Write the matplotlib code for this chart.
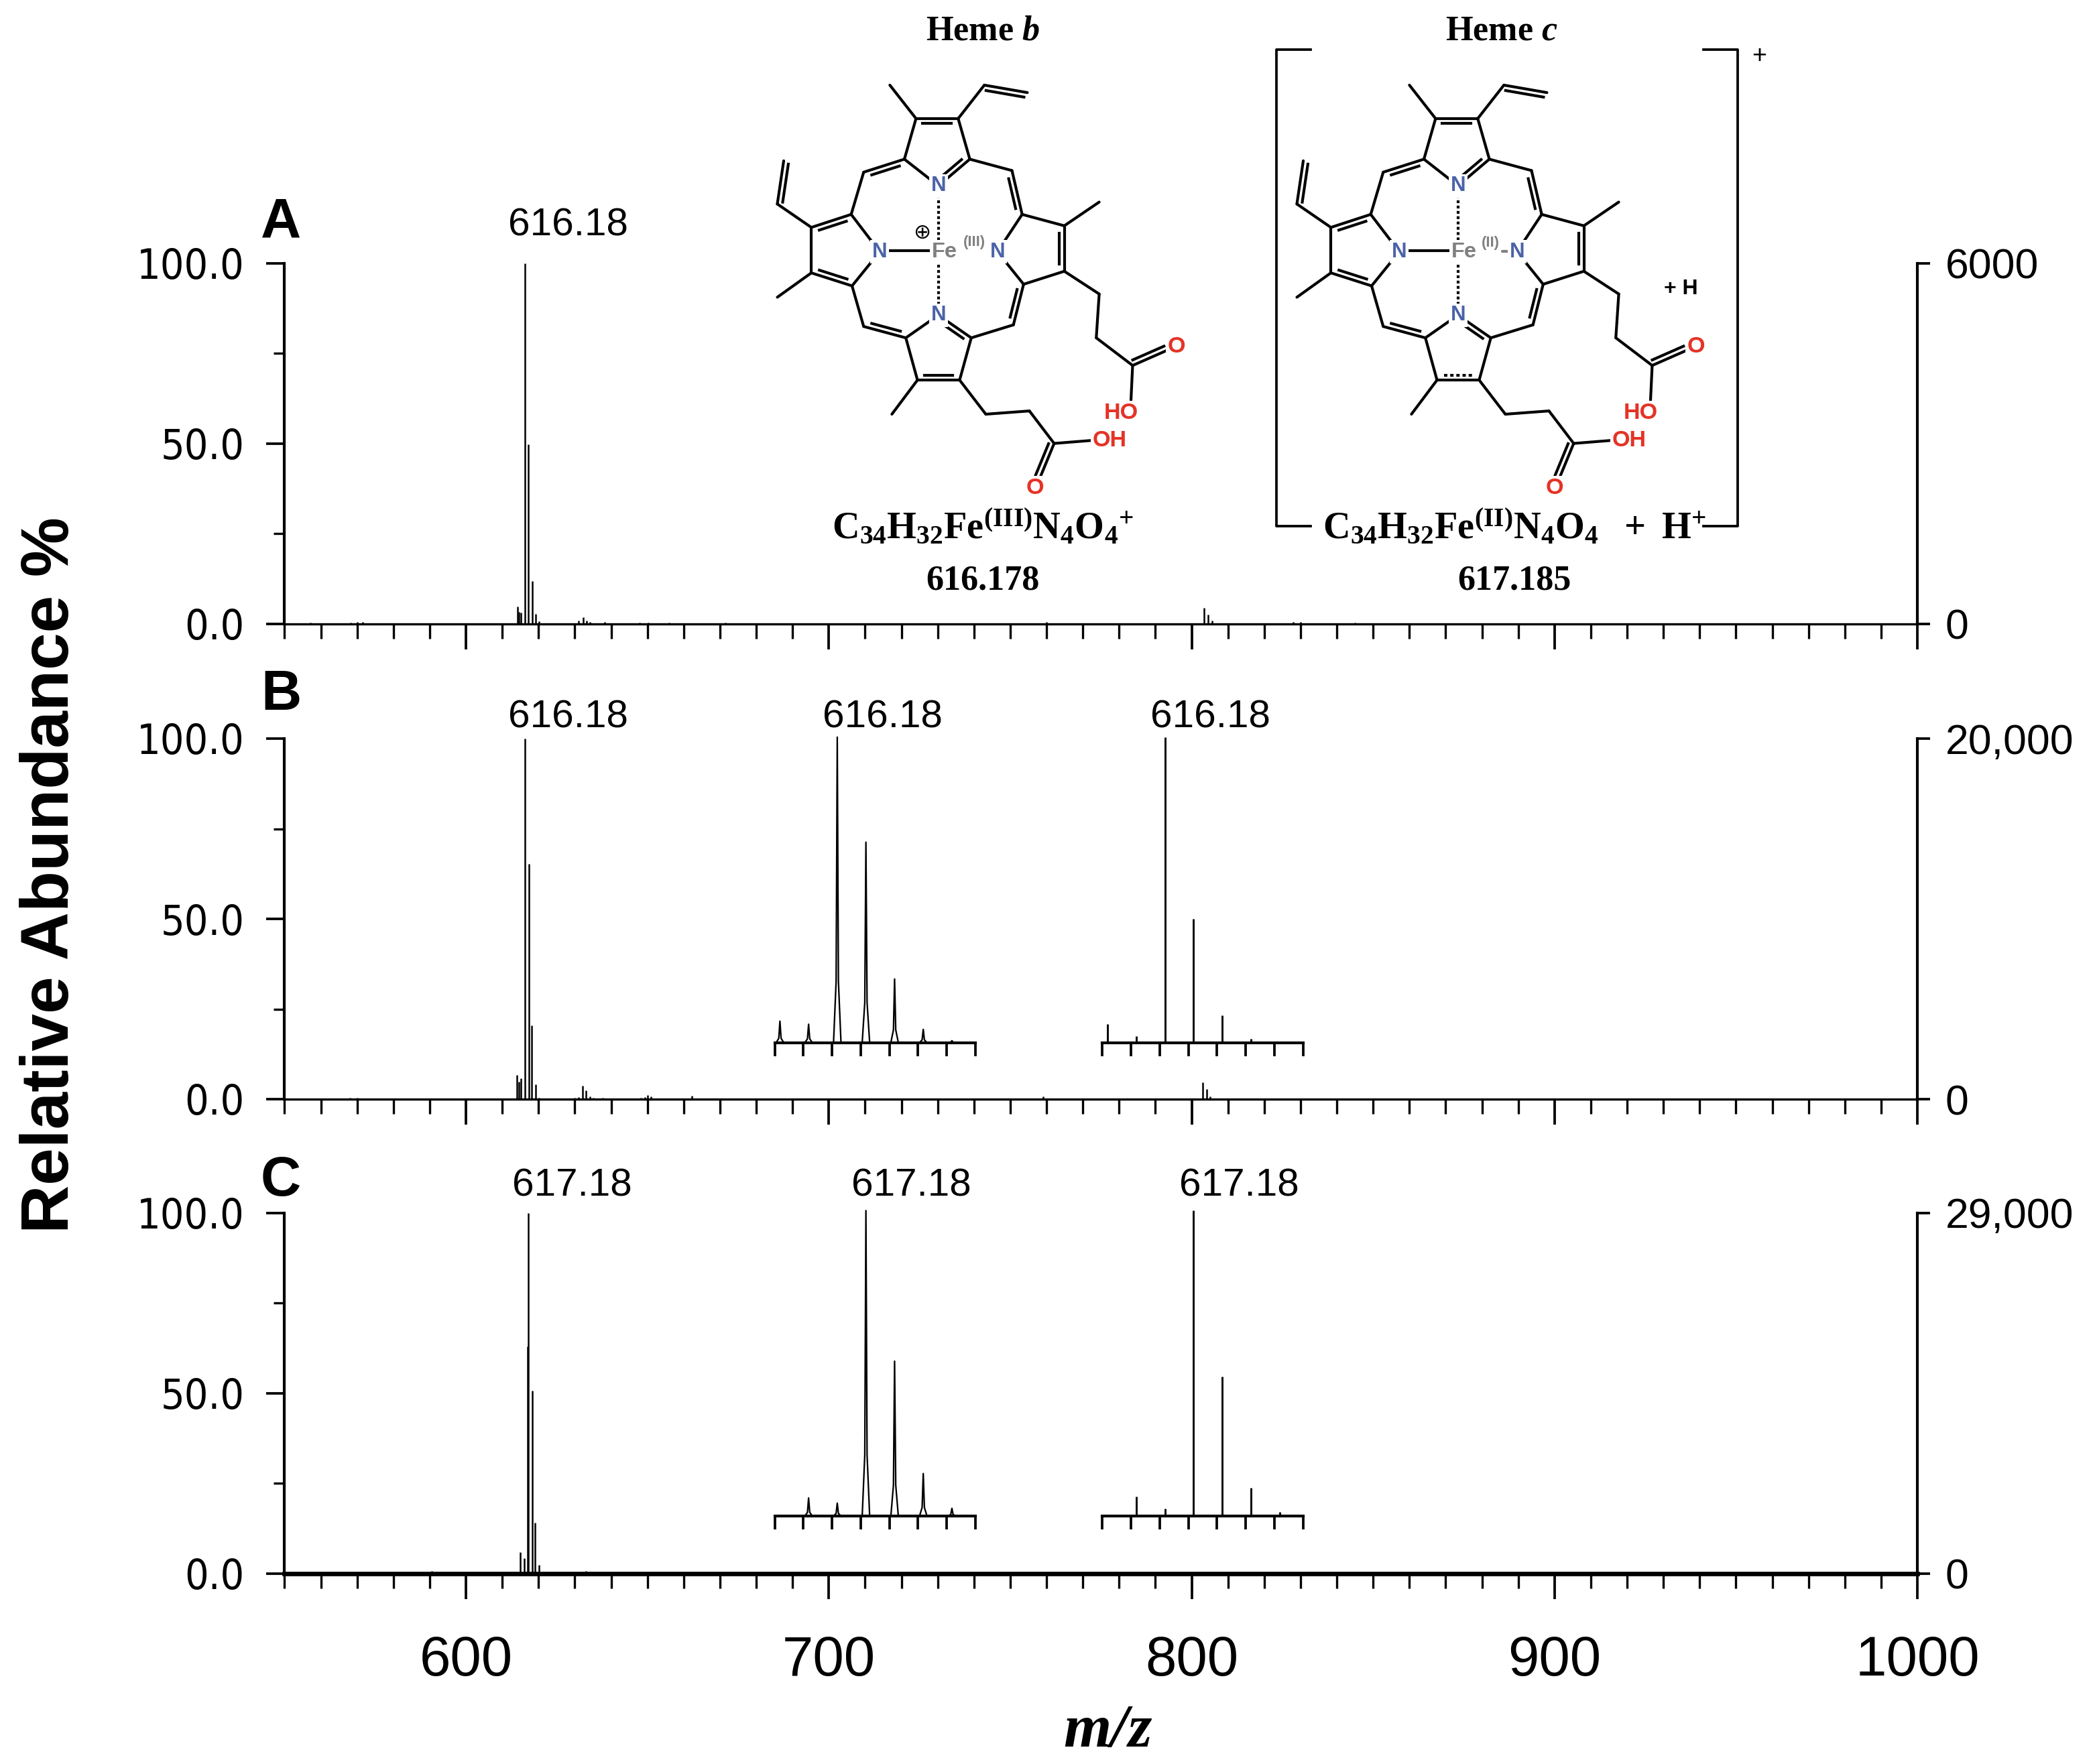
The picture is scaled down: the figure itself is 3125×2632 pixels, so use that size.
import math
import matplotlib
matplotlib.use("Agg")
import matplotlib.pyplot as plt
from matplotlib import font_manager

# ---------------------------------------------------------------------------
# spectra: m/z and relative abundance (%)
mz_a = [557.2, 568.2, 570.0, 571.5, 614.18, 614.6, 615.18, 616.18, 617.18, 618.18,
        619.18, 620.18, 631.1, 632.3, 633.2, 634.2, 638.3, 647.9, 650.2, 655.9,
        671.4, 760.0, 803.4, 804.6, 805.6, 828.0, 830.0, 845.0]
ab_a = [0.3, 0.3, 0.5, 0.4, 4.8, 3.2, 3.0, 100.0, 49.7, 11.8,
        2.8, 0.7, 0.9, 1.7, 0.9, 0.4, 0.4, 0.3, 0.3, 0.3,
        0.3, 0.4, 4.4, 2.5, 0.8, 0.4, 0.5, 0.3]

mz_b = [568.0, 570.0, 614.1, 614.6, 615.2, 616.18, 617.3, 618.1, 619.2, 620.2,
        630.0, 631.0, 632.2, 633.1, 634.1, 635.1, 637.6, 648.2, 649.3, 650.1,
        651.0, 662.2, 759.1, 803.1, 804.2, 805.1]
ab_b = [0.3, 0.3, 6.7, 4.8, 5.7, 100.0, 65.2, 20.5, 4.1, 0.3,
        0.3, 0.5, 3.8, 2.4, 0.8, 0.3, 0.4, 0.4, 0.6, 1.2,
        0.8, 0.9, 0.8, 4.6, 2.7, 0.8]

mz_c = [571.0, 590.6, 615.0, 616.1, 617.0, 617.18, 618.3, 619.1, 620.2, 633.1,
        634.4, 637.5, 649.3, 779.2]
ab_c = [0.3, 0.6, 5.8, 4.1, 62.9, 100.0, 50.7, 14.0, 2.4, 0.7,
        0.5, 0.3, 0.3, 0.4]

# isotope cluster insets (m/z 614-621)
ins_b1_mz = [614.18, 615.18, 616.18, 617.18, 618.18, 619.18, 620.18]
ins_b1_ab = [7.0, 6.0, 100.0, 65.6, 20.8, 4.3, 0.6]
ins_b2_mz = [614.18, 615.18, 616.18, 617.18, 618.18, 619.18]
ins_b2_ab = [6.1, 2.0, 100.0, 40.4, 9.0, 1.3]
ins_c1_mz = [615.18, 616.18, 617.18, 618.18, 619.18, 620.18]
ins_c1_ab = [5.9, 4.2, 100.0, 50.7, 13.9, 2.5]
ins_c2_mz = [615.18, 616.18, 617.18, 618.18, 619.18, 620.18]
ins_c2_ab = [6.4, 2.3, 100.0, 45.6, 9.3, 1.4]

panel_letters = ["A", "B", "C"]
base_peaks = [616.18, 616.18, 617.18]
peak_texts = ["616.18", "616.18", "617.18"]
right_max = ["6000", "20,000", "29,000"]
left_labels = ["0.0", "50.0", "100.0"]
x_labels = ["600", "700", "800", "900", "1000"]

# ---------------------------------------------------------------------------
W, H = 3125, 2632
DPI = 300

names = {f.name for f in font_manager.fontManager.ttflist}
narrow = "Liberation Sans Narrow" if "Liberation Sans Narrow" in names else "Liberation Sans"

plt.rcParams["font.family"] = ["Liberation Sans", "DejaVu Sans"]
plt.rcParams["mathtext.fontset"] = "custom"
plt.rcParams["mathtext.rm"] = "Liberation Serif:bold"
plt.rcParams["mathtext.it"] = "Liberation Serif:italic:bold"
plt.rcParams["mathtext.bf"] = "Liberation Serif:bold"

fig = plt.figure(figsize=(W / DPI, H / DPI), dpi=DPI)


def rect(top, bottom, left=424.5, right=2860):
    return [left / W, 1 - bottom / H, (right - left) / W, (bottom - top) / H]


panel_px = [(392.6, 930.6), (1102, 1640), (1809.5, 2347.5)]
spectra = [(mz_a, ab_a), (mz_b, ab_b), (mz_c, ab_c)]
label_y = [107.7, 103.0, 104.7]
letter_y = [107.0, 108.0, 104.8]

axes = []
for i, (top, bot) in enumerate(panel_px):
    ax = fig.add_axes(rect(top, bot))
    mz, ab = spectra[i]
    ax.vlines(mz, 0, ab, color="black", lw=0.6)
    ax.set_xlim(550, 1000)
    ax.set_ylim(0, 100)
    for s in ["top", "right"]:
        ax.spines[s].set_visible(False)
    ax.spines["left"].set_linewidth(1.0)
    ax.spines["bottom"].set_linewidth(1.6 if i == 2 else 0.8)
    ax.set_xticks(range(600, 1001, 100))
    ax.set_xticks(range(550, 1001, 10), minor=True)
    ax.tick_params(axis="x", which="major", direction="out", length=9, width=0.9)
    ax.tick_params(axis="x", which="minor", direction="out", length=5.3, width=0.8)
    if i == 2:
        ax.set_xticklabels(x_labels, fontfamily=narrow,
                           fontsize=21.5 if narrow != "Liberation Sans" else 20)
        ax.tick_params(axis="x", which="major", pad=13)
    else:
        ax.tick_params(axis="x", labelbottom=False)
    ax.set_yticks([0, 50, 100])
    ax.set_yticklabels(left_labels, fontfamily="DejaVu Sans", fontstretch="condensed",
                       fontsize=15)
    ax.set_yticks([25, 75], minor=True)
    ax.tick_params(axis="y", which="major", direction="out", length=6.4, width=0.9, pad=8)
    ax.tick_params(axis="y", which="minor", direction="out", length=3.8, width=0.8)

    ax2 = ax.twinx()
    ax2.set_ylim(0, 100)
    for s in ["top", "left", "bottom"]:
        ax2.spines[s].set_visible(False)
    ax2.spines["right"].set_linewidth(1.0)
    ax2.set_yticks([0, 100])
    ax2.set_yticklabels(["0", right_max[i]], fontsize=15)
    ax2.tick_params(axis="y", direction="out", length=4.5, width=0.9, pad=5.5)

    ax.text(base_peaks[i] + 12, label_y[i], peak_texts[i], ha="center", va="baseline",
            fontsize=14)
    ax.text(549, letter_y[i], panel_letters[i], ha="center", va="baseline",
            fontsize=20, fontweight="bold")
    axes.append(ax)


def inset(ax, x0, y0, mz, ab, profile, label, label_yv):
    w, h = 55.3, 84.7
    ins = ax.inset_axes([x0, y0, w, h], transform=ax.transData)
    ins.set_xlim(614, 621)
    ins.set_ylim(0, 100)
    ins.patch.set_visible(False)
    for s in ["top", "left", "right"]:
        ins.spines[s].set_visible(False)
    ins.spines["bottom"].set_linewidth(1.0)
    ins.set_xticks(range(614, 622))
    ins.set_yticks([])
    ins.tick_params(axis="x", direction="out", length=4.8, width=0.9, labelbottom=False)
    if profile:
        # open peak outline, like the profile trace of the reference
        for m, a in zip(mz, ab):
            ins.plot([m - 0.13, m - 0.04, m, m + 0.04, m + 0.13], [0, a * 0.2, a, a * 0.2, 0],
                     color="black", lw=0.55, clip_on=False)
    else:
        ins.vlines(mz, 0, ab, color="black", lw=0.7)
    top = mz[ab.index(max(ab))]
    px = x0 + (top - 614) / 7 * w
    ax.text(px + 12.5, label_yv, label, ha="center", va="baseline", fontsize=14)


inset(axes[1], 685.1, 15.7, ins_b1_mz, ins_b1_ab, True, "616.18", label_y[1])
inset(axes[1], 775.4, 15.7, ins_b2_mz, ins_b2_ab, False, "616.18", label_y[1])
inset(axes[2], 685.1, 15.9, ins_c1_mz, ins_c1_ab, True, "617.18", label_y[2])
inset(axes[2], 775.4, 15.9, ins_c2_mz, ins_c2_ab, False, "617.18", label_y[2])

fig.text(76 / W, 1 - 1306 / H, "Relative Abundance %", rotation=90, ha="center",
         va="center", fontsize=24, fontweight="bold")
fig.text(1652 / W, 1 - 2584 / H, "m/z", ha="center", va="center", fontsize=22,
         fontfamily="Liberation Serif", fontweight="bold", fontstyle="italic")

# ---------------------------------------------------------------------------
# heme structures, drawn in pixel space on a transparent overlay
ov = fig.add_axes([0, 0, 1, 1])
ov.set_xlim(0, W)
ov.set_ylim(H, 0)
ov.axis("off")

ATOMS = {
    "Nt": (622, 572), "tA1": (505, 490), "tA2": (730, 490), "tB1": (545, 365), "tB2": (690, 365),
    "tMe": (455, 262), "tV1": (780, 262), "tV2": (928, 285),
    "m1": (365, 530),
    "Nl": (420, 775), "lA1": (322, 660), "lA2": (325, 880), "lB1": (185, 700), "lB2": (185, 840),
    "lV1": (68, 628), "lV2": (90, 495), "lMe": (68, 915),
    "m2": (365, 1005),
    "Nb": (622, 970), "bA1": (510, 1040), "bA2": (735, 1040), "bB1": (550, 1170), "bB2": (695, 1170),
    "bMe": (462, 1275), "bP1": (785, 1275), "bP2": (935, 1265), "bC": (1020, 1365),
    "bOH": (1160, 1355), "bO": (968, 1478),
    "m3": (880, 1000),
    "Nr": (825, 775), "rA1": (910, 660), "rA2": (915, 875), "rB1": (1055, 695), "rB2": (1055, 835),
    "rMe": (1175, 622), "rP1": (1175, 905), "rP2": (1165, 1040), "rC": (1290, 1125),
    "rO": (1412, 1077), "rHO": (1284, 1238),
    "m4": (875, 525),
    "cT": (619, 440), "cL": (270, 771), "cB": (622, 1100), "cR": (970, 768), "cM": (622, 775),
    "sTV": (850, 400), "sLV": (200, 560), "sBO": (900, 1400), "sRO": (1330, 1000),
}

BONDS = [
    ("Nt", "tA1", None), ("Nt", "tA2", "cT"), ("tA1", "tB1", None), ("tA2", "tB2", None),
    ("tB1", "tB2", "cT"), ("tB1", "tMe", None), ("tB2", "tV1", None), ("tV1", "tV2", "sTV"),
    ("tA1", "m1", "cM"), ("m1", "lA1", None),
    ("Nl", "lA1", None), ("Nl", "lA2", None), ("lA1", "lB1", "cL"), ("lB1", "lB2", None),
    ("lB2", "lA2", "cL"), ("lB1", "lV1", None), ("lV1", "lV2", "sLV"), ("lB2", "lMe", None),
    ("lA2", "m2", None), ("m2", "bA1", "cM"),
    ("Nb", "bA1", None), ("Nb", "bA2", "cB"), ("bA1", "bB1", None), ("bA2", "bB2", None),
    ("bB1", "bB2", "cB"), ("bB1", "bMe", None), ("bB2", "bP1", None), ("bP1", "bP2", None),
    ("bP2", "bC", None), ("bC", "bOH", None), ("bC", "bO", "sBO"),
    ("bA2", "m3", None), ("m3", "rA2", "cM"),
    ("Nr", "rA1", None), ("Nr", "rA2", None), ("rA1", "rB1", None), ("rB1", "rB2", "cR"),
    ("rB2", "rA2", None), ("rB1", "rMe", None), ("rB2", "rP1", None), ("rP1", "rP2", None),
    ("rP2", "rC", None), ("rC", "rO", "sRO"), ("rC", "rHO", None),
    ("tA2", "m4", None), ("m4", "rA1", "cM"),
]

N_COL = "#4B63A8"
FE_COL = "#808080"
O_COL = "#E53326"
LW = 1.0
MASK = dict(boxstyle="square,pad=0.08", fc="white", ec="none")


def pt(p, dx):
    if isinstance(p, str):
        p = ATOMS[p]
    return 1130 + p[0] * 0.4337 + dx, p[1] * 0.4847


def line(p, q, dx, **kw):
    (x1, y1), (x2, y2) = pt(p, dx), pt(q, dx)
    ov.plot([x1, x2], [y1, y2], color=kw.pop("color", "black"), lw=kw.pop("lw", LW),
            solid_capstyle="round", zorder=2, **kw)


def draw_heme(dx, heme_c):
    for a, b, side in BONDS:
        line(a, b, dx)
        if side is None:
            continue
        (x1, y1), (x2, y2) = pt(a, dx), pt(b, dx)
        cx, cy = pt(side, dx)
        vx, vy = x2 - x1, y2 - y1
        L = math.hypot(vx, vy)
        nx, ny = -vy / L, vx / L
        if (cx - (x1 + x2) / 2) * nx + (cy - (y1 + y2) / 2) * ny < 0:
            nx, ny = -nx, -ny
        sh = 0.06 if side.startswith("s") else 0.16
        off = 7.5
        xa, ya = x1 + vx * sh + nx * off, y1 + vy * sh + ny * off
        xb, yb = x2 - vx * sh + nx * off, y2 - vy * sh + ny * off
        ls = (0, (1.2, 1.0)) if (heme_c and a == "bB1" and b == "bB2") else "-"
        ov.plot([xa, xb], [ya, yb], color="black", lw=LW, ls=ls, zorder=2)

    # iron coordination
    line((445, 772), (597, 772), dx)
    line((622, 600), (622, 738), dx, ls=(0, (1, 0.9)))
    line((622, 815), (622, 942), dx, ls=(0, (1, 0.9)))

    for n in ["Nt", "Nl", "Nb", "Nr"]:
        x, y = pt(n, dx)
        ov.text(x, y, "N", color=N_COL, fontsize=7.5, fontweight="bold", ha="center",
                va="center", bbox=MASK, zorder=3)
    x, y = pt((643, 776), dx)
    ov.text(x, y, "Fe", color=FE_COL, fontsize=7.8, fontweight="bold", ha="center",
            va="center", bbox=MASK, zorder=3)
    if heme_c:
        x, y = pt((735, 748), dx)
        ov.text(x, y, "(II)", color=FE_COL, fontsize=5.3, fontweight="bold", ha="center",
                va="center", zorder=3)
        line((775, 774), (800, 774), dx, color=FE_COL)
    else:
        x, y = pt((745, 746), dx)
        ov.text(x, y, "(III)", color=FE_COL, fontsize=5.3, fontweight="bold", ha="center",
                va="center", zorder=3)
        x, y = pt((565, 716), dx)
        ov.text(x, y, "\u2295", fontfamily="DejaVu Sans", fontsize=7.5, ha="center",
                va="center", zorder=3)

    for pos, s in [((1440, 1067), "O"), ((1250, 1272), "HO"), ((1212, 1357), "OH"),
                   ((955, 1502), "O")]:
        x, y = pt(pos, dx)
        ov.text(x, y, s, color=O_COL, fontsize=8.2, fontweight="bold", ha="center",
                va="center", bbox=MASK, zorder=3)


draw_heme(0, False)
draw_heme(775, True)

# captions
ov.text(1466, 59, r"$\mathrm{Heme}\ \mathit{b}$", fontsize=12.5, ha="center", va="baseline")
ov.text(2240, 59, r"$\mathrm{Heme}\ \mathit{c}$", fontsize=12.5, ha="center", va="baseline")
ov.text(1466, 803, r"$\mathrm{C_{34}H_{32}Fe^{(III)}N_{4}O_{4}{}^{+}}$", fontsize=13.5,
        ha="center", va="baseline")
ov.text(1466, 880, "616.178", fontfamily="Liberation Serif", fontweight="bold",
        fontsize=12.5, ha="center", va="baseline")
ov.text(2259, 803, r"$\mathrm{C_{34}H_{32}Fe^{(II)}N_{4}O_{4}\ \ +\ H^{+}}$", fontsize=13.5,
        ha="center", va="baseline")
ov.text(2259, 880, "617.185", fontfamily="Liberation Serif", fontweight="bold",
        fontsize=12.5, ha="center", va="baseline")
ov.text(2507, 431, "+ H", fontsize=7.7, fontweight="bold", ha="center", va="center")

# bracket around heme c
ov.plot([1955, 1904, 1904, 1955], [73.5, 73.5, 785, 785], color="black", lw=0.9)
ov.plot([2541, 2592, 2592, 2541], [73.5, 73.5, 785, 785], color="black", lw=0.9)
ov.text(2624, 84, "+", fontsize=9, ha="center", va="center")

fig.savefig("out.png", dpi=DPI)
